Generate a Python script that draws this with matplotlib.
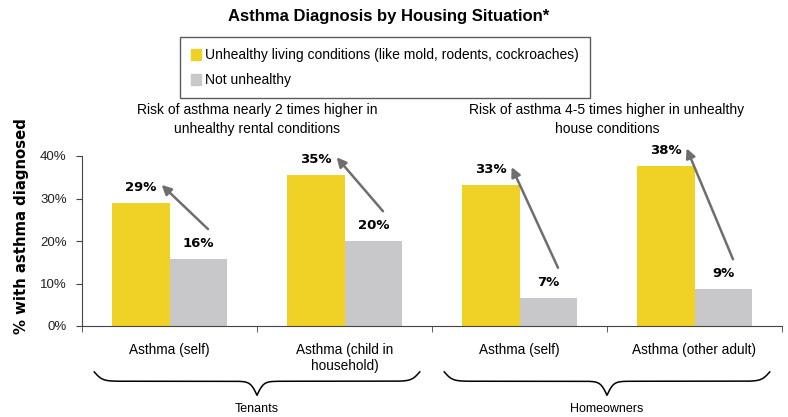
import numpy as np
import matplotlib.pyplot as plt
from matplotlib.patches import Patch

categories = ['Asthma (self)', 'Asthma (child in\nhousehold)', 'Asthma (self)', 'Asthma (other adult)']
unhealthy = [29, 35.5, 33.2, 37.6]
not_unhealthy = [15.8, 20, 6.7, 8.7]
unhealthy_labels = ['29%', '35%', '33%', '38%']
not_unhealthy_labels = ['16%', '20%', '7%', '9%']
groups = ['Tenants', 'Homeowners']
group_notes = ['Risk of asthma nearly 2 times higher in\nunhealthy rental conditions',
               'Risk of asthma 4-5 times higher in unhealthy\nhouse conditions']

yellow = '#F0D226'
grey = '#C8C8CA'
arrow_col = '#6E6E6E'
narrow = ['Liberation Sans Narrow', 'Liberation Sans', 'DejaVu Sans']
arial = ['Liberation Sans', 'DejaVu Sans']

fig = plt.figure(figsize=(7.88, 4.17), dpi=100)
ax = fig.add_axes([82/788, 1 - 326/417, 700/788, 170/417])

x = np.arange(len(categories))
w = 0.33
ax.bar(x - w/2, unhealthy, w, color=yellow, label='Unhealthy living conditions (like mold, rodents, cockroaches)')
ax.bar(x + w/2, not_unhealthy, w, color=grey, label='Not unhealthy')

# value labels and arrows
for i in range(len(categories)):
    ax.text(x[i] - w/2, unhealthy[i] + 3.6, unhealthy_labels[i], ha='center', va='center',
            fontsize=9.5, fontweight='bold', family=['DejaVu Sans'])
    ax.text(x[i] + w/2, not_unhealthy[i] + 3.6, not_unhealthy_labels[i], ha='center', va='center',
            fontsize=9.5, fontweight='bold', family=['DejaVu Sans'])
    ax.annotate('', xy=(x[i] - 0.045, unhealthy[i] + 4.2), xytext=(x[i] + 0.22, not_unhealthy[i] + 7),
                arrowprops=dict(arrowstyle='-|>', color=arrow_col, lw=1.8, mutation_scale=14,
                                shrinkA=0, shrinkB=0), annotation_clip=False)

ax.set_xlim(-0.5, 3.5)
ax.set_ylim(0, 40)
ax.set_yticks([0, 10, 20, 30, 40])
ax.set_yticklabels(['0%', '10%', '20%', '30%', '40%'], family=arial, fontsize=9.5, color='#222222')
ax.set_xticks(x)
ax.set_xticklabels(categories, family=narrow, fontsize=9.8, linespacing=1.25)
ax.set_xticks(np.arange(-0.5, 4, 1), minor=True)
ax.tick_params(axis='x', which='major', length=0, pad=12)
ax.tick_params(axis='x', which='minor', length=4, direction='out', color='#444444')
ax.tick_params(axis='y', length=4, direction='out', color='#444444', pad=7)
for s in ['top', 'right']:
    ax.spines[s].set_visible(False)
for s in ['left', 'bottom']:
    ax.spines[s].set_color('#444444')
ax.set_ylabel('% with asthma diagnosed', family=['DejaVu Sans'], fontsize=10.7, fontweight='bold')
ax.yaxis.set_label_coords(-0.076, 0.585)

# group notes above bars
for g in range(len(groups)):
    ax.text(2*g + 0.5, 48.5, group_notes[g], ha='center', va='center', family=arial,
            fontsize=10, linespacing=1.45, clip_on=False)

# braces under the categories
def brace(ax, x0, x1, y_top, d1, d2):
    half = (x1 - x0) / 2
    u = np.linspace(0, 1, 300)
    e = 2 * (1 / (1 + np.exp(-40 * u)) - 0.5)
    m = 2 / (1 + np.exp(-50 * (u - 1)))
    y_half = y_top - d1 * e - d2 * m
    xs = np.concatenate([x0 + u * half, x1 - u[::-1] * half])
    ys = np.concatenate([y_half, y_half[::-1]])
    ax.plot(xs, ys, color='black', lw=1.1, clip_on=False)

for g in range(len(groups)):
    c = 2*g + 0.5
    brace(ax, c - 0.93, c + 0.93, -10.8, 2.2, 3.3)
    ax.text(c, -19.6, groups[g], ha='center', va='center', family=narrow, fontsize=9, clip_on=False)

fig.text(389/788, 1 - 17/417, 'Asthma Diagnosis by Housing Situation*', ha='center', va='center',
         family=narrow, fontsize=12, fontweight='bold')

handles = [Patch(color=yellow), Patch(color=grey)]
leg = fig.legend(handles, ['Unhealthy living conditions (like mold, rodents, cockroaches)', 'Not unhealthy'],
                 loc='upper left', bbox_to_anchor=(180/788, 1 - 37/417, 410/788, 0.0), mode='expand',
                 prop={'family': narrow, 'size': 10}, frameon=True, fancybox=False,
                 handlelength=0.7, handleheight=0.9, handletextpad=0.3, labelspacing=0.8,
                 borderpad=0.8, borderaxespad=0)
leg.get_frame().set_edgecolor('#333333')
leg.get_frame().set_linewidth(1.0)

plt.savefig('out.png', dpi=100)
